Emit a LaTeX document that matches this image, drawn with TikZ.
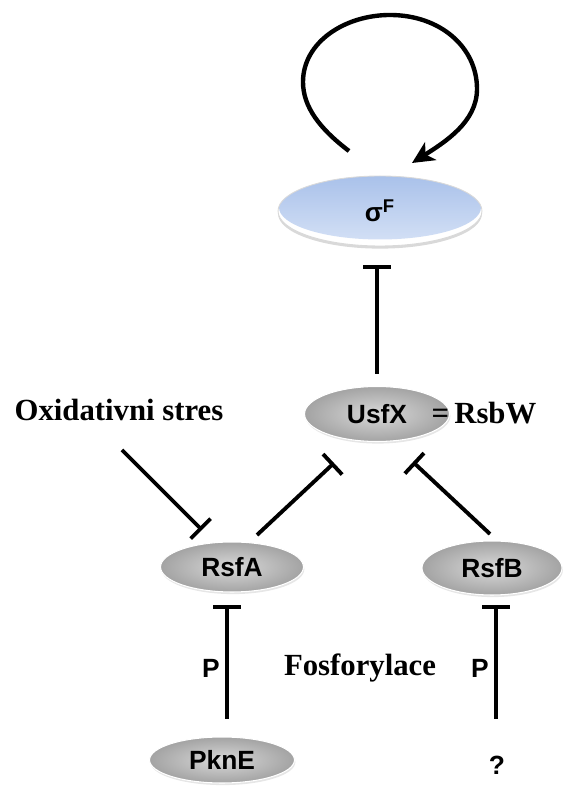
\documentclass[tikz,border=0pt]{standalone}
\usepackage{fontspec}
\setmainfont{Liberation Serif}
\setsansfont{Liberation Sans}
\usetikzlibrary{shapes.geometric,arrows.meta,shadows}
\definecolor{sigtop}{HTML}{A9C1EA}
\definecolor{sigbot}{HTML}{D6E2F6}

\begin{document}
\begin{tikzpicture}[x=0.02cm,y=0.02cm,
  prot/.style={ellipse,inner sep=0pt,draw=white,line width=0.6pt,inner color=gray!30,outer color=gray!72,
    drop shadow={opacity=0.2,shadow xshift=0.5pt,shadow yshift=-1.2pt},
    font=\sffamily\bfseries\fontsize{15}{18}\selectfont},
  sigma/.style={ellipse,inner sep=0pt,minimum width=4.08cm,minimum height=1.4cm,fill=white,draw=gray!30,line width=0.5pt,
    drop shadow={opacity=0.3,shadow xshift=0pt,shadow yshift=-1.5pt},
    path picture={\fill[top color=sigtop,bottom color=sigbot] ([yshift=2pt]path picture bounding box.center) ellipse[x radius=101,y radius=32];},
    font=\sffamily\bfseries\fontsize{15}{18}\selectfont},
  lab/.style={font=\bfseries\fontsize{17.5}{21}\selectfont,inner sep=1pt},
  plab/.style={font=\sffamily\bfseries\fontsize{15}{18}\selectfont,inner sep=1pt},
  inh/.style={line width=2.2pt,-{Bar[width=0.56cm]}},
  selfloop/.style={line width=2.5pt,-{Stealth[length=0.44cm,width=0.42cm,inset=0.12cm]}}]
\useasboundingbox (0,0) rectangle (562,787);
% proteins
\node[sigma] (sigF) at (380,576) {σ\textsuperscript{F}};
\node[prot,minimum width=2.9cm,minimum height=1.1cm] (usfx) at (377,373) {UsfX};
\node[prot,minimum width=2.86cm,minimum height=1cm] (rsfa) at (232,220) {RsfA};
\node[prot,minimum width=2.8cm,minimum height=1.08cm] (rsfb) at (492,219) {RsfB};
\node[prot,minimum width=2.9cm,minimum height=0.92cm] (pkne) at (222,27) {PknE};
\node[plab] (unk) at (497,22) {?};
% labels
\node[lab] (rsbw) at (484,374) {=\,RsbW};
\node[lab] (oxi) at (119,377) {Oxidativni stres};
\node[lab] (fosf) at (360,119) {Fosforylace};
\node[plab] (pa) at (211,119) {P};
\node[plab] (pb) at (480,119) {P};
% connectors
\coordinate (loopstart) at ([shift={(-31,60)}]sigF.center);
\coordinate (looptip) at ([shift={(32,48)}]sigF.center);
\draw[selfloop] (loopstart) .. controls (320,658) and (303,680) .. (303,705)
  .. controls (303,745) and (345,772) .. (390,772)
  .. controls (440,772) and (477,740) .. (477,698)
  .. controls (477,665) and (445,645) .. (looptip);
\draw[inh] ([shift={(0,40)}]usfx.center) -- ([shift={(-3,-54)}]sigF.center);
\coordinate (oxtail) at ([shift={(3,-40)}]oxi.center);
\draw[inh] (oxtail) -- ([shift={(-30,37)}]rsfa.center);
\draw[inh] ([shift={(25,32)}]rsfa.center) -- ([shift={(-43,-49)}]usfx.center);
\draw[inh] ([shift={(-2,34)}]rsfb.center) -- ([shift={(36,-48)}]usfx.center);
\draw[inh] ([shift={(5,41)}]pkne.center) -- ([shift={(-5,-38)}]rsfa.center);
\draw[inh] ([shift={(-1,46)}]unk.center) -- ([shift={(4,-37)}]rsfb.center);
\end{tikzpicture}
\end{document}
